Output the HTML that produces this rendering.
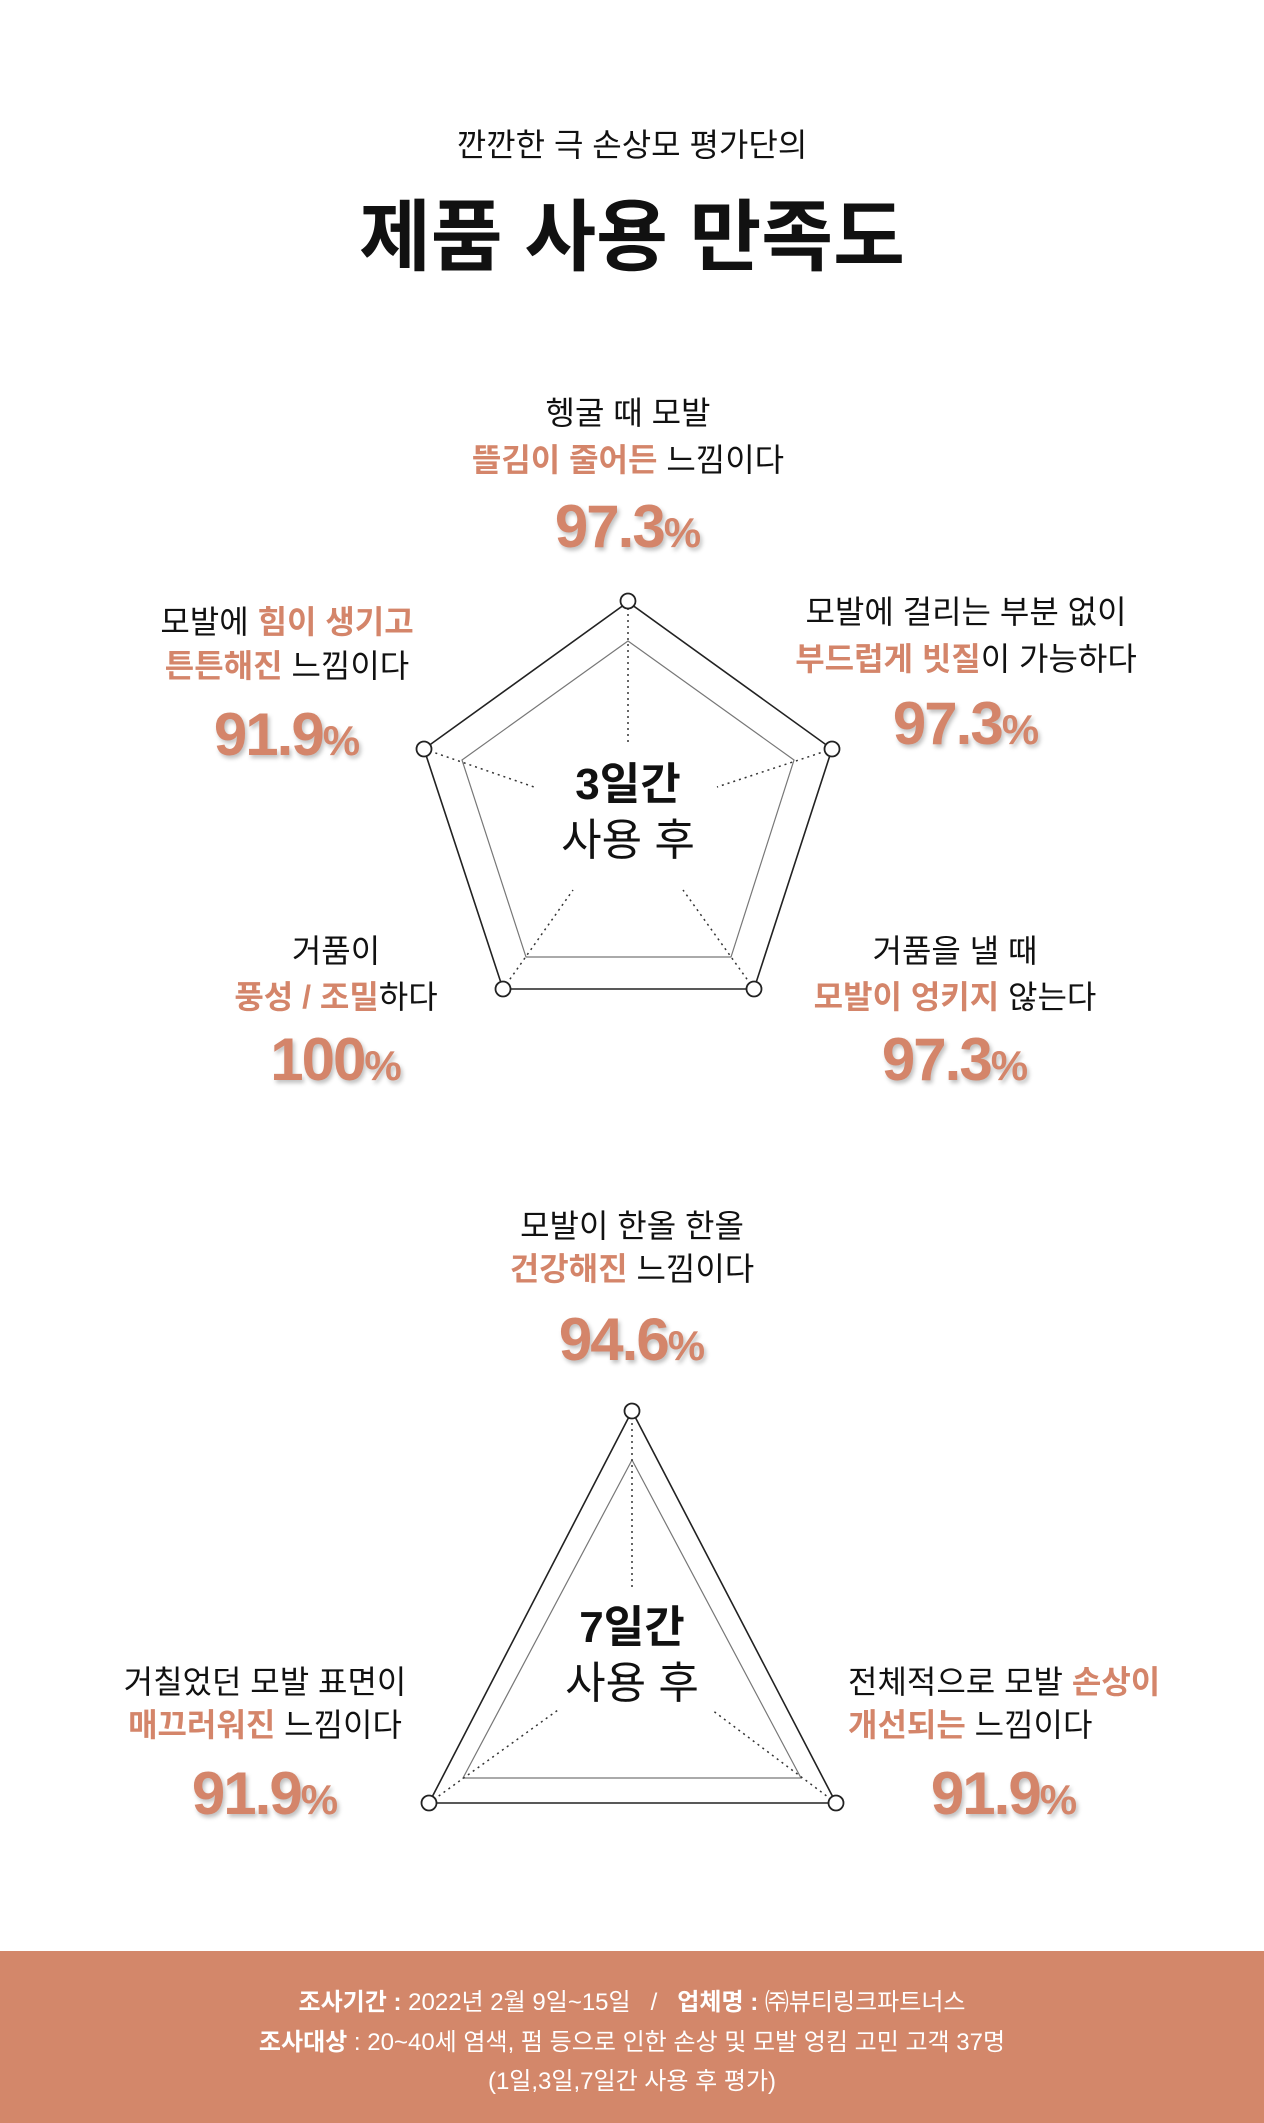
<!DOCTYPE html>
<html><head><meta charset="utf-8">
<style>
html,body{margin:0;padding:0;background:#fff;}
body{width:1264px;height:2123px;position:relative;overflow:hidden;font-family:"Liberation Sans","Noto Sans CJK KR",sans-serif;color:#111;}
.t{position:absolute;transform:translateX(-50%);white-space:nowrap;text-align:center;}
.l{font-size:32px;line-height:44px;height:44px;}
.o{color:#d4856a;font-weight:bold;}
.p{font-size:60px;line-height:64px;height:64px;font-weight:bold;color:#d4856a;letter-spacing:-2px;text-shadow:2px 3px 4px rgba(0,0,0,0.25);}
.p small{font-size:42px;letter-spacing:0;}
.c{font-size:44px;line-height:54px;height:54px;}
svg{position:absolute;left:0;top:0;}
.foot{position:absolute;left:0;top:1951px;width:1264px;height:172px;background:#d3876a;color:#fff;}
.foot div{position:absolute;left:632px;transform:translateX(-50%);white-space:nowrap;font-size:24px;line-height:30px;}
</style></head><body>
<div class="t" style="left:632px;top:124px;font-size:32px;line-height:42px;">깐깐한 극 손상모 평가단의</div>
<div class="t" style="left:632px;top:190px;font-size:78px;line-height:94px;font-weight:bold;">제품 사용 만족도</div>

<svg width="1264" height="2123">
<g fill="none">
<polygon points="628,602 832,749 754,989 503,989 424,749" stroke="#222" stroke-width="1.6"/>
<polygon points="628,641 794,760 731,957 526,957 462,760" stroke="#777" stroke-width="1.2"/>
<g stroke="#333" stroke-width="1.5" stroke-dasharray="2,4">
<line x1="628" y1="602" x2="628" y2="742"/>
<line x1="832" y1="749" x2="717" y2="787"/>
<line x1="754" y1="989" x2="683" y2="890"/>
<line x1="503" y1="989" x2="573" y2="890"/>
<line x1="424" y1="749" x2="534" y2="787"/>
</g>
<polygon points="632,1411 836,1803 429,1803" stroke="#222" stroke-width="1.6"/>
<polygon points="632,1460 801,1778 463,1778" stroke="#777" stroke-width="1.2"/>
<g stroke="#333" stroke-width="1.5" stroke-dasharray="2,4">
<line x1="632" y1="1411" x2="632" y2="1588"/>
<line x1="429" y1="1803" x2="558" y2="1710"/>
<line x1="836" y1="1803" x2="712" y2="1710"/>
</g>
</g>
<g fill="#fff" stroke="#222" stroke-width="1.8">
<circle cx="628" cy="601" r="7.5"/><circle cx="832" cy="749" r="7.5"/><circle cx="754" cy="989" r="7.5"/><circle cx="503" cy="989" r="7.5"/><circle cx="424" cy="749" r="7.5"/>
<circle cx="632" cy="1411" r="7.5"/><circle cx="836" cy="1803" r="7.5"/><circle cx="429" cy="1803" r="7.5"/>
</g>
</svg>

<div class="t c" style="left:628px;top:758px;font-weight:bold;">3일간</div>
<div class="t c" style="left:628px;top:814px;">사용 후</div>
<div class="t c" style="left:632px;top:1601px;font-weight:bold;">7일간</div>
<div class="t c" style="left:632px;top:1657px;">사용 후</div>

<div class="t l" style="left:628px;top:391px;">헹굴 때 모발</div>
<div class="t l" style="left:628px;top:438px;"><span class="o">뜰김이 줄어든</span> 느낌이다</div>
<div class="t p" style="left:628px;top:495px;">97.3<small>%</small></div>

<div class="t l" style="left:287px;top:600px;">모발에 <span class="o">힘이 생기고</span></div>
<div class="t l" style="left:287px;top:644px;"><span class="o">튼튼해진</span> 느낌이다</div>
<div class="t p" style="left:287px;top:703px;">91.9<small>%</small></div>

<div class="t l" style="left:966px;top:590px;">모발에 걸리는 부분 없이</div>
<div class="t l" style="left:966px;top:637px;"><span class="o">부드럽게 빗질</span>이 가능하다</div>
<div class="t p" style="left:966px;top:692px;">97.3<small>%</small></div>

<div class="t l" style="left:336px;top:929px;">거품이</div>
<div class="t l" style="left:336px;top:975px;"><span class="o">풍성 / 조밀</span>하다</div>
<div class="t p" style="left:336px;top:1028px;">100<small>%</small></div>

<div class="t l" style="left:955px;top:929px;">거품을 낼 때</div>
<div class="t l" style="left:955px;top:975px;"><span class="o">모발이 엉키지</span> 않는다</div>
<div class="t p" style="left:955px;top:1028px;">97.3<small>%</small></div>

<div class="t l" style="left:632px;top:1204px;">모발이 한올 한올</div>
<div class="t l" style="left:632px;top:1247px;"><span class="o">건강해진</span> 느낌이다</div>
<div class="t p" style="left:632px;top:1308px;">94.6<small>%</small></div>

<div class="t l" style="left:265px;top:1660px;">거칠었던 모발 표면이</div>
<div class="t l" style="left:265px;top:1703px;"><span class="o">매끄러워진</span> 느낌이다</div>
<div class="t p" style="left:265px;top:1762px;">91.9<small>%</small></div>

<div class="l" style="position:absolute;left:848px;top:1660px;white-space:nowrap;">전체적으로 모발 <span class="o">손상이</span></div>
<div class="l" style="position:absolute;left:848px;top:1703px;white-space:nowrap;"><span class="o">개선되는</span> 느낌이다</div>
<div class="t p" style="left:1004px;top:1762px;">91.9<small>%</small></div>

<div class="foot">
<div style="top:37px;"><b>조사기간 :</b> 2022년 2월 9일~15일 &nbsp; / &nbsp; <b>업체명 :</b> ㈜뷰티링크파트너스</div>
<div style="top:77px;"><b>조사대상</b> : 20~40세 염색, 펌 등으로 인한 손상 및 모발 엉킴 고민 고객 37명</div>
<div style="top:116px;">(1일,3일,7일간 사용 후 평가)</div>
</div>
</body></html>
